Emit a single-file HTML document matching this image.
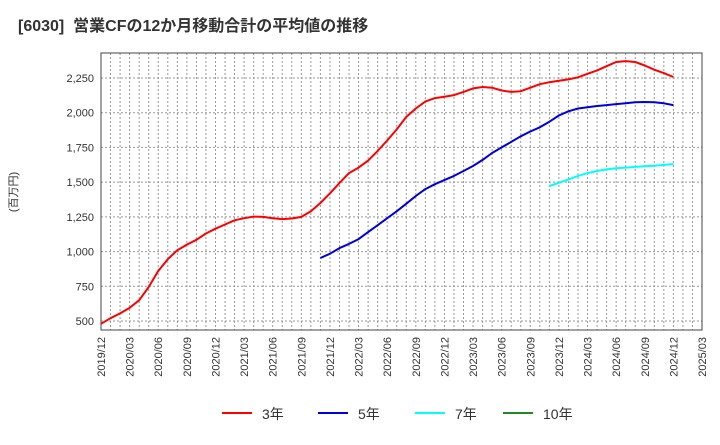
<!DOCTYPE html>
<html><head><meta charset="utf-8">
<style>
body{margin:0;background:#fff;}
svg{font-family:"Liberation Sans","Noto Sans CJK JP",sans-serif;}
</style></head>
<body>
<svg id="chart" width="720" height="440">
<text x="18" y="31" font-size="16" font-weight="bold" fill="#333" xml:space="preserve" style="white-space:pre">[6030]  営業CFの12か月移動合計の平均値の推移</text>
<text transform="translate(17,192) rotate(-90)" font-size="11" fill="#333" text-anchor="middle">(百万円)</text>
<g id="grid"></g><g id="axes"></g><g id="series"></g>
<g>
<line x1="222" y1="413" x2="252" y2="413" stroke="#ff0000" stroke-width="2"/><text x="262" y="419" font-size="14" fill="#333">3年</text>
<line x1="318" y1="413" x2="348" y2="413" stroke="#0000dd" stroke-width="2"/><text x="358" y="419" font-size="14" fill="#333">5年</text>
<line x1="415" y1="413" x2="445" y2="413" stroke="#00ffff" stroke-width="2"/><text x="455" y="419" font-size="14" fill="#333">7年</text>
<line x1="503" y1="413" x2="533" y2="413" stroke="#228822" stroke-width="2"/><text x="543" y="419" font-size="14" fill="#333">10年</text>
</g>
</svg>
<script>
const xTickLabels=["2019/12","2020/03","2020/06","2020/09","2020/12","2021/03","2021/06","2021/09","2021/12","2022/03","2022/06","2022/09","2022/12","2023/03","2023/06","2023/09","2023/12","2024/03","2024/06","2024/09","2024/12","2025/03"];
const yTicks=[500,750,1000,1250,1500,1750,2000,2250];
const yTickLabels=["500","750","1,000","1,250","1,500","1,750","2,000","2,250"];
const s3=[480,520,555,594,650,745,860,945,1010,1050,1085,1130,1165,1195,1225,1240,1252,1250,1240,1234,1238,1250,1290,1350,1420,1494,1565,1605,1655,1725,1800,1880,1970,2030,2080,2105,2115,2127,2150,2175,2185,2180,2160,2150,2155,2180,2205,2220,2230,2240,2255,2280,2305,2335,2365,2372,2365,2340,2310,2285,2257];
const s5start=23;
const s5=[954,985,1025,1055,1090,1140,1190,1240,1290,1345,1400,1450,1485,1515,1545,1580,1616,1660,1710,1750,1790,1830,1865,1895,1935,1980,2010,2030,2040,2048,2055,2062,2068,2075,2077,2075,2068,2055];
const s7start=47;
const s7=[1472,1495,1520,1545,1565,1580,1592,1600,1605,1610,1614,1618,1624,1630];
const s10=[];
const L=101,R=702,T=53,B=330,NM=63;
const xs=i=>L+(R-L)*i/NM;
const ys=v=>321-(v-500)*243/1750;
const NS="http://www.w3.org/2000/svg";
function mk(tag,attrs,parent){const e=document.createElementNS(NS,tag);for(const k in attrs)e.setAttribute(k,attrs[k]);parent.appendChild(e);return e;}
const grid=document.getElementById('grid'),axes=document.getElementById('axes'),ser=document.getElementById('series');
for(let m=1;m<NM;m++){const l=mk('line',{x1:xs(m),x2:xs(m),y1:T,y2:B,stroke:'#999','stroke-dasharray':'2,2','stroke-width':1},grid);

}
yTicks.forEach((v,i)=>{const l=mk('line',{x1:L,x2:R,y1:ys(v),y2:ys(v),stroke:'#999','stroke-dasharray':'2,2','stroke-width':1},grid);


const t=mk('text',{x:94,y:ys(v)+4,'font-size':11,fill:'#333','text-anchor':'end'},axes);t.textContent=yTickLabels[i];

});
xTickLabels.forEach((s,i)=>{const x=xs(i*3);const t=mk('text',{transform:`translate(${x+4},337) rotate(-90)`,'font-size':11,fill:'#333','text-anchor':'end'},axes);t.textContent=s;

});
const box=mk('rect',{x:L,y:T,width:R-L,height:B-T,fill:'none',stroke:'#444','stroke-width':1},axes);


function line(arr,start,color,name){if(!arr.length)return;const p=mk('path',{d:arr.map((v,i)=>(i?'L':'M')+xs(start+i).toFixed(1)+','+ys(v).toFixed(1)).join(''),fill:'none',stroke:color,'stroke-width':2,'stroke-linejoin':'round'},ser);

}
line(s3,0,'#ff0000','series-3y');
line(s5,s5start,'#0000dd','series-5y');
line(s7,s7start,'#00ffff','series-7y');
line(s10,0,'#228822','series-10y');
</script>
</body></html>
